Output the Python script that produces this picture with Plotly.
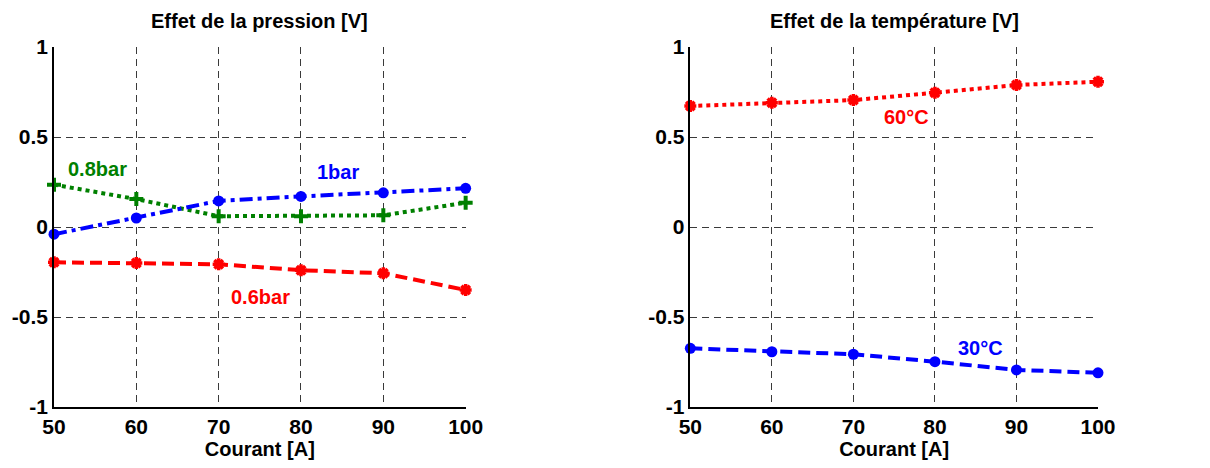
import plotly.graph_objects as go
from plotly.subplots import make_subplots

courant = [50, 60, 70, 80, 90, 100]

p_1bar = [-0.04, 0.05, 0.145, 0.17, 0.19, 0.215]
p_08bar = [0.235, 0.155, 0.06, 0.06, 0.065, 0.135]
p_06bar = [-0.196, -0.20, -0.207, -0.24, -0.257, -0.35]

t_60 = [0.672, 0.69, 0.705, 0.746, 0.789, 0.807]
t_30 = [-0.674, -0.693, -0.707, -0.748, -0.794, -0.81]

y_ticks = [-1, -0.5, 0, 0.5, 1]
y_tick_text = ["-1", "-0.5", "0", "0.5", "1"]
x_ticks = [50, 60, 70, 80, 90, 100]

FONT = "Liberation Sans"
BLUE = "#0000ff"
GREEN = "#008000"
RED = "#ff0000"

fig = make_subplots(rows=1, cols=2)

def line(x, y, color, dash, symbol, col, msize=9, mline=0):
    fig.add_trace(go.Scatter(
        x=x, y=y, mode="lines+markers",
        line=dict(color=color, width=4, dash=dash),
        marker=dict(color=color, size=msize, symbol=symbol,
                    line=dict(color=color, width=mline)),
        showlegend=False, cliponaxis=False), row=1, col=col)

line(courant, p_06bar, RED, "12px,6px", "asterisk-open", 1, msize=10, mline=3.5)
line(courant, p_08bar, GREEN, "4px,4px", "cross-thin-open", 1, msize=10, mline=4)
line(courant, p_1bar, BLUE, "13px,5px,4px,5px", "circle", 1, msize=11)

line(courant, t_60, RED, "4px,4px", "asterisk-open", 2, msize=10, mline=3.5)
line(courant, t_30, BLUE, "12px,6px", "circle", 2, msize=11)

axis_common = dict(
    showline=True, linecolor="black", linewidth=1.5, mirror=False,
    showgrid=True, gridcolor="#3a3a3a", gridwidth=1, griddash="7px,5px",
    zeroline=False, ticks="",
    tickfont=dict(family=FONT, size=21, color="black", weight="bold"),
)

for xa, dom in (("xaxis", [0.0, 0.3943]), ("xaxis2", [0.6095, 1.0])):
    fig.update_layout(**{xa: dict(
        axis_common, domain=dom, range=[50, 100], tickvals=x_ticks,
        title=dict(text="Courant [A]", standoff=3,
                   font=dict(family=FONT, size=20, color="black", weight="bold")),
    )})
for ya in ("yaxis", "yaxis2"):
    fig.update_layout(**{ya: dict(
        axis_common, domain=[0, 1], range=[-1, 1],
        tickvals=y_ticks, ticktext=y_tick_text,
    )})

def label(text, x, y, color, xref, yref):
    fig.add_annotation(text=text, x=x, y=y, xref=xref, yref=yref, showarrow=False,
                       font=dict(family=FONT, size=20, color=color, weight="bold"))

label("0.8bar", 55.3, 0.32, GREEN, "x", "y")
label("1bar", 84.5, 0.305, BLUE, "x", "y")
label("0.6bar", 75.1, -0.387, RED, "x", "y")
label("60°C", 76.5, 0.613, RED, "x2", "y2")
label("30°C", 85.6, -0.67, BLUE, "x2", "y2")

for text, xc in (("Effet de la pression [V]", 0.19715), ("Effet de la température [V]", 0.80475)):
    fig.add_annotation(text=text, x=xc, y=1, xref="paper", yref="paper",
                       xanchor="center", yanchor="bottom", yshift=13, showarrow=False,
                       font=dict(family=FONT, size=20, color="black", weight="bold"))

fig.update_layout(
    width=1210, height=468,
    margin=dict(l=48, r=112, t=47, b=61),
    paper_bgcolor="white", plot_bgcolor="white",
)

fig.write_html("out.html")
